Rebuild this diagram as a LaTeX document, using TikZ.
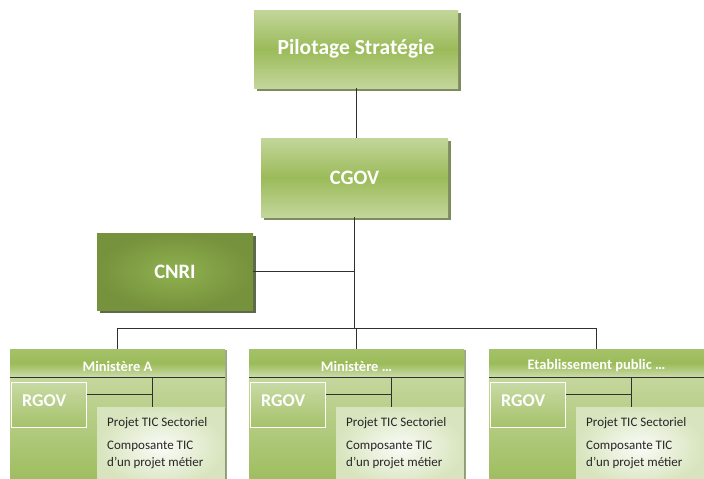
\documentclass[tikz,border=0pt]{standalone}
\usepackage{fontspec}
\setmainfont{Carlito}
\usetikzlibrary{shadows,calc}
\definecolor{vertClair}{HTML}{C3D69B}
\definecolor{vertMoyen}{HTML}{9BBB59}
\definecolor{vertFonce}{HTML}{76923C}
\definecolor{vertCentre}{HTML}{8FB150}
\definecolor{vertPale}{HTML}{DCE8C6}
\definecolor{ombre}{HTML}{6E7F4E}
\definecolor{trait}{HTML}{303030}

\tikzset{
  haut/.style={inner sep=0pt,text=white,font=\fontsize{20.5}{24}\selectfont\bfseries,
    top color=vertClair,bottom color=vertClair,middle color=vertMoyen,
    drop shadow={shadow xshift=3pt,shadow yshift=-3pt,fill=ombre,opacity=.9}},
  cnribox/.style={inner sep=0pt,text=white,font=\fontsize{20.5}{24}\selectfont\bfseries,
    inner color=vertCentre,outer color=vertFonce,
    drop shadow={shadow xshift=3pt,shadow yshift=-3pt,fill=ombre!70!black,opacity=.9}},
  corps/.style={inner sep=0pt,minimum width=215pt,minimum height=140pt,anchor=north west,
    top color=vertClair!80!white,bottom color=vertMoyen,
    drop shadow={shadow xshift=1.5pt,shadow yshift=-1pt,fill=ombre,opacity=.7}},
  entete/.style={inner sep=0pt,minimum width=215pt,minimum height=28pt,anchor=north west,
    top color=vertMoyen!90!white,bottom color=vertClair!85!white,middle color=vertMoyen},
  titre/.style={inner sep=0pt,text=white,font=\fontsize{14.5}{17}\selectfont\bfseries},
  rgov/.style={inner sep=0pt,minimum width=75pt,minimum height=45pt,anchor=north west,
    draw=white,line width=.9pt,top color=vertMoyen!55!white,bottom color=vertMoyen!90!white,
    label={[anchor=north west,inner sep=0pt,xshift=11pt,yshift=-12pt,text=white,
      font=\fontsize{18}{20}\selectfont\bfseries]north west:RGOV}},
  projet/.style={inner sep=0pt,minimum width=128pt,minimum height=80pt,anchor=north west,
    inner color=white!85!vertPale,outer color=vertPale!80!vertClair,
    drop shadow={shadow xshift=1pt,shadow yshift=-1pt,fill=ombre,opacity=.5}},
  lien/.style={draw=trait,line width=.8pt}
}

\begin{document}
\begin{tikzpicture}[x=1pt,y=-1pt]
  \useasboundingbox (0,0) rectangle (704,479);
  \clip (0,0) rectangle (704,479);
  %niveau national
  \node[haut,minimum width=204pt,minimum height=78pt,font=\fontsize{21.5}{24}\selectfont\bfseries] (pil) at (356,49) {Pilotage Stratégie};
  \node[haut,minimum width=187pt,minimum height=79pt] (cgov) at (354.5,177.5) {CGOV};
  \node[cnribox,minimum width=156pt,minimum height=77pt] (cnri) at (175,271.5) {CNRI};
  \coordinate (bar) at (355,328);
  %ministeres
  \foreach \nom/\x/\lab in {minA/10/Ministère A,minB/249/Ministère \dots,minC/489/Etablissement public \dots}{
    \node[corps] (\nom) at (\x,349) {};
    \node[entete] (\nom-t) at (\x,349) {};
    \node[titre] (\nom-l) at (\x+107.5,366) {\lab};
    \node[rgov] (\nom-r) at (\x+1,382) {};
    \node[projet] (\nom-p) at (\x+87,407) {};
    \node[anchor=north west,inner sep=0pt,align=left,text=black!85,
      font=\fontsize{13}{17}\selectfont] (\nom-x) at (\x+97,417)
      {Projet TIC Sectoriel\\[6pt]Composante TIC\\d’un projet métier};
    \coordinate (\nom-k) at (\x+142,394);
    \draw[lien,line width=1.1pt] (\nom-t.south west) -- (\nom-t.south east);
    \draw[lien] (\nom-r.east |- \nom-k) -- (\nom-k);
    \draw[lien] (\nom-k |- \nom-t.south) -- (\nom-k |- \nom-p.north);
    \draw[lien] (\nom.north |- bar) -- (\nom.north);
  }
  %liaisons
  \draw[lien] (pil.south) -- (pil.south |- cgov.north);
  \draw[lien] (cgov.south) -- (cgov.south |- bar);
  \draw[lien] (cnri.east) -- (cnri.east -| cgov.south);
  \draw[lien] (minA.north |- bar) -- (minC.north |- bar);
\end{tikzpicture}
\end{document}
